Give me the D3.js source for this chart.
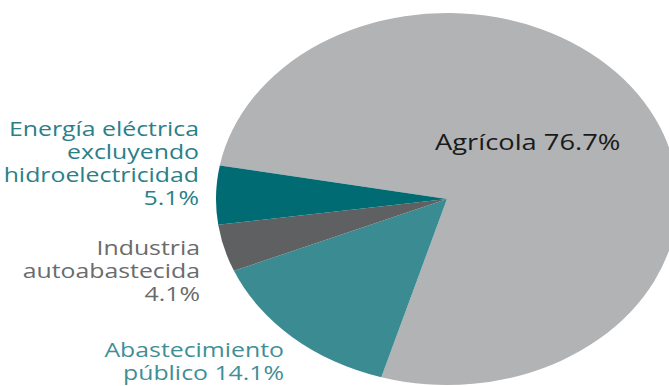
<!DOCTYPE html>
<html>
<head>
<meta charset="utf-8">
<script src="https://cdn.jsdelivr.net/npm/d3@7"></script>
<style>
  html, body { margin: 0; padding: 0; background: #fff; }
  svg { display: block; }
  text { font-family: "Open Sans", "Noto Sans", sans-serif; }
</style>
</head>
<body>
<svg id="chart" width="669" height="386"></svg>
<script>
// Uso del agua por sector (porcentaje del volumen concesionado)
const categories = ["Agrícola", "Abastecimiento público", "Industria autoabastecida", "Energía eléctrica excluyendo hidroelectricidad"];
const values = [76.7, 14.1, 4.1, 5.1];
const sliceColors = ["#b1b3b5", "#3b8b93", "#5f6062", "#006b73"];
const labelColors = ["#1a1a1a", "#3f8f97", "#6b6b6b", "#2a7f89"];
// label text split into lines; the percentage is appended to the last line or set on its own line
const labelLines = [["Agrícola"], ["Abastecimiento", "público"], ["Industria", "autoabastecida"], ["Energía eléctrica", "excluyendo", "hidroelectricidad"]];
const pctOwnLine = [false, false, true, true];

const svg = d3.select("#chart");
const cx = 447, cy = 199, ry = 186, rx = 231;
const stretch = rx / ry; // the whole figure is drawn wider than tall

const pie = d3.pie().sort(null).value(d => d)
  .startAngle(-79.6 * Math.PI / 180)
  .endAngle(-79.6 * Math.PI / 180 + 2 * Math.PI);
const arcs = pie(values);
const arc = d3.arc().innerRadius(0).outerRadius(ry);

const g = svg.append("g")
  .attr("transform", `translate(${cx},${cy}) scale(${stretch},1)`);

g.selectAll("path")
  .data(arcs)
  .join("path")
  .attr("d", arc)
  .attr("fill", (d, i) => sliceColors[i]);

const fmt = v => d3.format(".1f")(v) + "%";

// label anchor points (anchor x, first baseline y, text-anchor, font size)
const labelPos = [
  { x: 435, y: 150, anchor: "start", size: 22 },
  { x: 284, y: 357, anchor: "end", size: 20 },
  { x: 200, y: 255, anchor: "end", size: 20 },
  { x: 199, y: 136, anchor: "end", size: 20 }
];
const lineH = 23;

values.forEach((v, i) => {
  const lines = labelLines[i].slice();
  if (pctOwnLine[i]) lines.push(fmt(v));
  else lines[lines.length - 1] += " " + fmt(v);
  const t = svg.append("g")
    .attr("transform", `translate(${labelPos[i].x},${labelPos[i].y}) scale(${stretch},1)`)
    .append("text")
    .attr("text-anchor", labelPos[i].anchor)
    .attr("font-size", labelPos[i].size)
    .attr("fill", labelColors[i]);
  lines.forEach((ln, j) => {
    t.append("tspan")
      .attr("x", 0)
      .attr("y", j * lineH)
      .text(ln);
  });
});
</script>
</body>
</html>
